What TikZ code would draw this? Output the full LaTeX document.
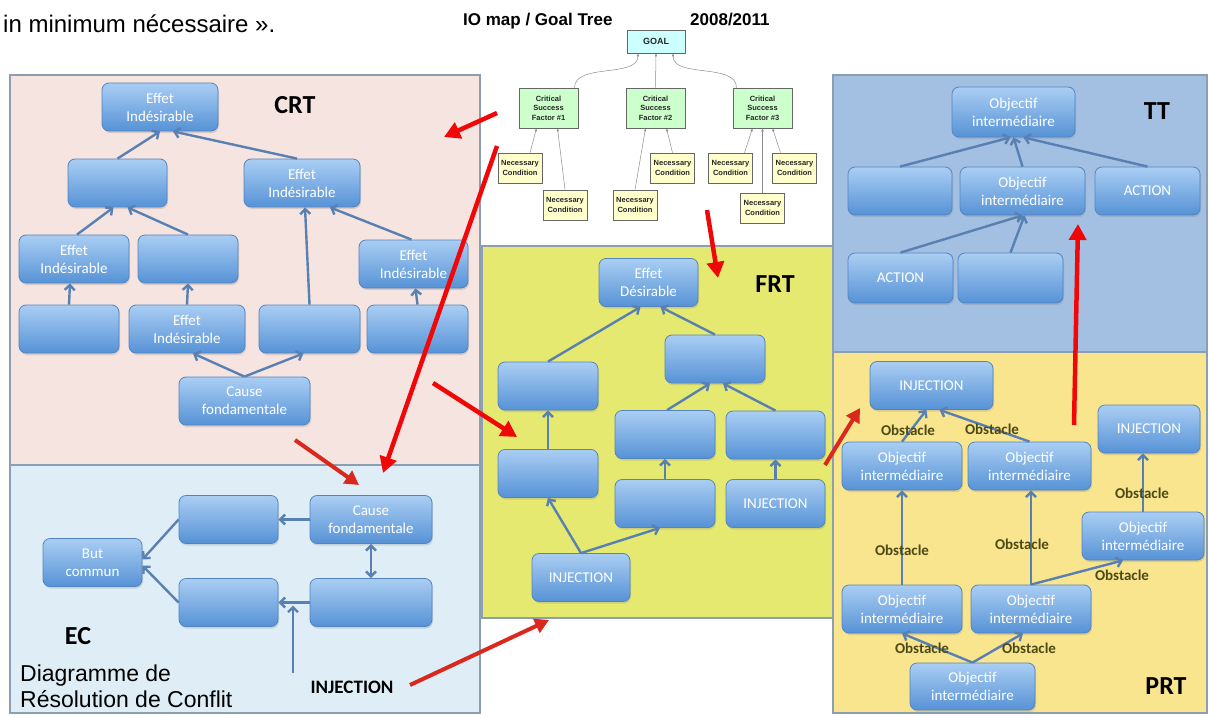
\documentclass[tikz,border=0pt]{standalone}
\usepackage{fontspec}
\setmainfont{Carlito}
\newfontfamily\arialf{Liberation Sans}
\usetikzlibrary{arrows.meta,shadows}
\definecolor{crtbg}{RGB}{246,228,224}
\definecolor{ecbg}{RGB}{223,238,246}
\definecolor{frtbg}{RGB}{229,233,112}
\definecolor{ttbg}{RGB}{163,192,226}
\definecolor{prtbg}{RGB}{249,229,142}
\definecolor{panelln}{RGB}{140,158,178}
\definecolor{boxtop}{RGB}{170,206,243}
\definecolor{boxbot}{RGB}{86,146,214}
\definecolor{boxln}{RGB}{84,132,192}
\definecolor{linkc}{RGB}{88,128,178}
\definecolor{redar}{RGB}{240,8,8}
\definecolor{redar2}{RGB}{218,40,28}
\definecolor{obstc}{RGB}{78,74,22}
\definecolor{goalbg}{RGB}{204,255,255}
\definecolor{csfbg}{RGB}{204,255,204}
\definecolor{ncbg}{RGB}{255,255,204}
\begin{document}
\begin{tikzpicture}[x=1pt,y=-1pt,
  panel/.style={draw=panelln, line width=1.2pt},
  bx/.style={draw=boxln, line width=0.8pt, rounded corners=7pt, top color=boxtop, bottom color=boxbot,
    text=white, align=center, font=\fontsize{15}{18}\selectfont, minimum width=100pt, minimum height=48pt,
    inner sep=1pt, drop shadow={shadow xshift=1pt, shadow yshift=-2pt, opacity=0.25}},
  lk/.style={draw=linkc, line width=2.4pt, -{Straight Barb[length=5pt,width=10pt]}},
  gt/.style={draw=black!60, line width=0.6pt, align=center, inner sep=1pt, text=black!85,
    font=\arialf\bfseries\fontsize{7.5}{9.5}\selectfont},
  gl/.style={draw=black!45, line width=0.5pt, -{Latex[length=3pt,width=2.5pt]}},
  obst/.style={font=\bfseries\fontsize{15}{15}\selectfont, text=obstc, inner sep=0pt},
  ptl/.style={font=\bfseries\fontsize{26}{26}\selectfont, inner sep=0pt},
  ra/.style={draw=redar, line width=4.5pt, -{Triangle[length=16pt,width=17pt]}},
  rb/.style={draw=redar2, line width=4pt, -{Triangle[length=14pt,width=15pt]}}]
\useasboundingbox (0,0) rectangle (1209,717);

% panels
\draw[panel, fill=crtbg] (10,75) rectangle (480,465);
\draw[panel, fill=ecbg] (10,465) rectangle (480,713);
\draw[panel, fill=frtbg] (482,246) rectangle (835,618);
\draw[panel, fill=ttbg] (833,75) rectangle (1207,352);
\draw[panel, fill=prtbg] (833,352) rectangle (1207,713);

% titles
\node[anchor=base west, inner sep=0pt, font=\arialf\fontsize{24}{24}\selectfont] (cap) at (3,33) {in minimum nécessaire ».};
\node[anchor=base west, inner sep=0pt, font=\arialf\bfseries\fontsize{17}{17}\selectfont] (iomap) at (463,26) {IO map / Goal Tree};
\node[anchor=base west, inner sep=0pt, font=\arialf\bfseries\fontsize{17}{17}\selectfont] (years) at (690,26) {2008/2011};

% goal tree
\node[gt, fill=goalbg, minimum width=58pt, minimum height=23pt, font=\arialf\bfseries\fontsize{9}{9}\selectfont] (goal) at (656,41.5) {GOAL};
\node[gt, fill=csfbg, minimum width=59pt, minimum height=40pt] (csf1) at (548.5,108) {Critical\\Success\\Factor \#1};
\node[gt, fill=csfbg, minimum width=59pt, minimum height=40pt] (csf2) at (655.5,108) {Critical\\Success\\Factor \#2};
\node[gt, fill=csfbg, minimum width=59pt, minimum height=40pt] (csf3) at (762.5,108) {Critical\\Success\\Factor \#3};
\node[gt, fill=ncbg, minimum width=44pt, minimum height=30pt] (nc1) at (520,168) {Necessary\\Condition};
\node[gt, fill=ncbg, minimum width=44pt, minimum height=30pt] (nc2) at (565,205) {Necessary\\Condition};
\node[gt, fill=ncbg, minimum width=44pt, minimum height=30pt] (nc3) at (635,205) {Necessary\\Condition};
\node[gt, fill=ncbg, minimum width=44pt, minimum height=30pt] (nc4) at (672.5,168) {Necessary\\Condition};
\node[gt, fill=ncbg, minimum width=44pt, minimum height=30pt] (nc5) at (730.5,168) {Necessary\\Condition};
\node[gt, fill=ncbg, minimum width=44pt, minimum height=30pt] (nc6) at (794.5,168) {Necessary\\Condition};
\node[gt, fill=ncbg, minimum width=44pt, minimum height=30pt] (nc7) at (762.5,208) {Necessary\\Condition};
\draw[gl] ([xshift=26pt]csf1.north) .. controls +(0,-25) and +(0,25) .. ([xshift=-18pt]goal.south);
\draw[gl] (csf2.north) -- (goal.south);
\draw[gl] ([xshift=-26pt]csf3.north) .. controls +(0,-25) and +(0,25) .. ([xshift=17pt]goal.south);
\draw[gl] ([xshift=10pt]nc1.north) -- ([xshift=-12pt]csf1.south);
\draw[gl] (nc2.north) -- ([xshift=9pt]csf1.south);
\draw[gl] (nc3.north) -- ([xshift=-10pt]csf2.south);
\draw[gl] (nc4.north) -- ([xshift=11pt]csf2.south);
\draw[gl] ([xshift=14pt]nc5.north) -- ([xshift=-10pt]csf3.south);
\draw[gl] (nc7.north) -- (csf3.south);
\draw[gl] ([xshift=-14pt]nc6.north) -- ([xshift=10pt]csf3.south);

% CRT
\node[bx, minimum width=116pt] (crt1) at (160,107) {Effet\\Indésirable};
\node[bx, minimum width=99pt] (crt2) at (117.5,183) {};
\node[bx, minimum width=116pt] (crt3) at (302,183) {Effet\\Indésirable};
\node[bx, minimum width=110pt] (crt4) at (74,259) {Effet\\Indésirable};
\node[bx] (crt5) at (188,259) {};
\node[bx, minimum width=109pt] (crt6) at (413.5,264) {Effet\\Indésirable};
\node[bx] (crt7) at (69,329) {};
\node[bx, minimum width=116pt] (crt8) at (187,329) {Effet\\Indésirable};
\node[bx, minimum width=101pt] (crt9) at (309.5,329) {};
\node[bx, minimum width=101pt] (crt10) at (417.5,329) {};
\node[bx, minimum width=131pt] (crt11) at (244.5,401) {Cause\\fondamentale};
\draw[lk] (crt2.north) -- (crt1.south);
\draw[lk] ([xshift=-5pt]crt3.north) -- ([xshift=13pt]crt1.south);
\draw[lk] ([xshift=3pt]crt4.north) -- ([xshift=-4pt]crt2.south);
\draw[lk] (crt5.north) -- ([xshift=10pt]crt2.south);
\draw[lk] ([xshift=-2pt]crt6.north) -- ([xshift=28pt]crt3.south);
\draw[lk] (crt9.north) -- ([xshift=3pt]crt3.south);
\draw[lk] (crt7.north) -- ([xshift=-4pt]crt4.south);
\draw[lk] (crt8.north) -- (crt5.south);
\draw[lk] (crt10.north) -- ([xshift=2pt]crt6.south);
\draw[lk] (crt11.north) -- ([xshift=6pt]crt8.south);
\draw[lk] (crt11.north) -- ([xshift=-6pt]crt9.south);
\node[ptl] (crtl) at (295,105) {CRT};

% EC
\node[bx, minimum width=99pt] (ec1) at (92.5,562.5) {But\\commun};
\node[bx, minimum width=99pt] (ec2) at (228.5,519.5) {};
\node[bx, minimum width=122pt] (ec3) at (371,519.5) {Cause\\fondamentale};
\node[bx, minimum width=99pt] (ec4) at (228.5,602.5) {};
\node[bx, minimum width=122pt] (ec5) at (371,602.5) {};
\draw[lk] (ec3.west) -- (ec2.east);
\draw[lk] (ec5.west) -- (ec4.east);
\draw[lk] (ec2.west) -- ([yshift=3pt]ec1.east);
\draw[lk] (ec4.west) -- ([yshift=-3pt]ec1.east);
\draw[lk, {Straight Barb[length=5pt,width=10pt]}-{Straight Barb[length=5pt,width=10pt]}] (ec3.south) -- (ec5.north);
\coordinate (ecinj) at (293,673);
\draw[lk] (ecinj) -- ([yshift=-3pt]ecinj |- ec4.east);
\node[ptl] (ecl) at (78,636) {EC};
\node[anchor=north west, align=left, inner sep=0pt, font=\arialf\fontsize{23}{26}\selectfont] (ecname) at (20,665) {Diagramme de\\Résolution de Conflit};
\node[inner sep=0pt, font=\bfseries\fontsize{19}{19}\selectfont] (ecinjl) at (352,687) {INJECTION};

% FRT
\node[bx, minimum width=99pt] (frt1) at (648.5,282.5) {Effet\\Désirable};
\node[bx] (frt2) at (715,359) {};
\node[bx] (frt3) at (548,386) {};
\node[bx] (frt4) at (548,473.5) {};
\node[bx] (frt5) at (665,434.5) {};
\node[bx, minimum width=99pt] (frt6) at (775.5,435) {};
\node[bx] (frt7) at (665,503.5) {};
\node[bx, minimum width=99pt] (frt8) at (775.5,503.5) {INJECTION};
\node[bx, minimum width=98pt] (frt9) at (581,577.5) {INJECTION};
\draw[lk] (frt3.north) -- ([xshift=-8pt]frt1.south);
\draw[lk] (frt2.north) -- ([xshift=12pt]frt1.south);
\draw[lk] (frt4.north) -- (frt3.south);
\draw[lk] ([xshift=2pt]frt5.north) -- ([xshift=-5pt]frt2.south);
\draw[lk] (frt6.north) -- ([xshift=8pt]frt2.south);
\draw[lk] (frt7.north) -- (frt5.south);
\draw[lk] (frt8.north) -- (frt6.south);
\draw[lk] (frt9.north) -- (frt4.south);
\draw[lk] (frt9.north) -- ([xshift=-5pt]frt7.south);
\node[ptl] (frtl) at (775,284) {FRT};

% TT
\node[bx, minimum width=123pt, minimum height=50pt] (tt1) at (1013.5,112) {Objectif\\intermédiaire};
\node[bx, minimum width=104pt] (tt2) at (900,191) {};
\node[bx, minimum width=125pt] (tt3) at (1022.5,191) {Objectif\\intermédiaire};
\node[bx, minimum width=105pt] (tt4) at (1147.5,191) {ACTION};
\node[bx, minimum width=105pt, minimum height=50pt] (tt5) at (900.5,278) {ACTION};
\node[bx, minimum width=105pt, minimum height=50pt] (tt6) at (1010.5,278) {};
\draw[lk] (tt2.north) -- ([xshift=-3pt]tt1.south);
\draw[lk] (tt3.north) -- (tt1.south);
\draw[lk] (tt4.north) -- ([xshift=10pt]tt1.south);
\draw[lk] (tt5.north) -- (tt3.south);
\draw[lk] (tt6.north) -- ([xshift=2pt]tt3.south);
\node[ptl] (ttl) at (1157,111) {TT};

% PRT
\node[bx, minimum width=123pt] (prt1) at (931.5,385.5) {INJECTION};
\node[bx, minimum width=102pt] (prt2) at (1149,429) {INJECTION};
\node[bx, minimum width=120pt] (prt3) at (902,466) {Objectif\\intermédiaire};
\node[bx, minimum width=123pt] (prt4) at (1029.5,466) {Objectif\\intermédiaire};
\node[bx, minimum width=122pt] (prt5) at (1143,536) {Objectif\\intermédiaire};
\node[bx, minimum width=120pt] (prt6) at (902,609) {Objectif\\intermédiaire};
\node[bx, minimum width=120pt] (prt7) at (1031,609) {Objectif\\intermédiaire};
\node[bx, minimum width=125pt, minimum height=47pt] (prt8) at (972.5,686.5) {Objectif\\intermédiaire};
\draw[lk] (prt3.north) -- ([xshift=-5pt]prt1.south);
\draw[lk] (prt4.north) -- ([xshift=8pt]prt1.south);
\draw[lk] (prt6.north) -- (prt3.south);
\draw[lk] (prt7.north) -- ([xshift=1.5pt]prt4.south);
\draw[lk] (prt7.north) -- ([xshift=-20pt]prt5.south);
\draw[lk] (prt5.north) -- (prt5.north |- prt2.south);
\draw[lk] (prt8.north) -- (prt6.south);
\draw[lk] (prt8.north) -- ([xshift=-8pt]prt7.south);
\node[obst] (ob1) at (908,430) {Obstacle};
\node[obst] (ob2) at (992,429) {Obstacle};
\node[obst] (ob3) at (902,550) {Obstacle};
\node[obst] (ob4) at (1022,544) {Obstacle};
\node[obst] (ob5) at (1122,575) {Obstacle};
\node[obst] (ob6) at (1142,493) {Obstacle};
\node[obst] (ob7) at (922,648) {Obstacle};
\node[obst] (ob8) at (1029,648) {Obstacle};
\node[ptl] (prtl) at (1166,686) {PRT};

% red pointers
\coordinate (r1a) at (497,113); \coordinate (r1b) at (444,137);
\coordinate (r2a) at (497,146); \coordinate (r2b) at (383,473);
\coordinate (r3a) at (707,210); \coordinate (r3b) at (718,278);
\coordinate (r4a) at (295,440); \coordinate (r4b) at (359,485);
\coordinate (r5a) at (433,383); \coordinate (r5b) at (517,437);
\coordinate (r6a) at (410,685); \coordinate (r6b) at (549,620);
\coordinate (r7a) at (825,465); \coordinate (r7b) at (860,408);
\coordinate (r8a) at (1074,425); \coordinate (r8b) at (1078,224);
\draw[ra] (r1a) -- (r1b);
\draw[ra] (r2a) -- (r2b);
\draw[ra] (r3a) -- (r3b);
\draw[rb] (r4a) -- (r4b);
\draw[ra] (r5a) -- (r5b);
\draw[rb] (r6a) -- (r6b);
\draw[rb] (r7a) -- (r7b);
\draw[ra] (r8a) -- (r8b);
\end{tikzpicture}
\end{document}
